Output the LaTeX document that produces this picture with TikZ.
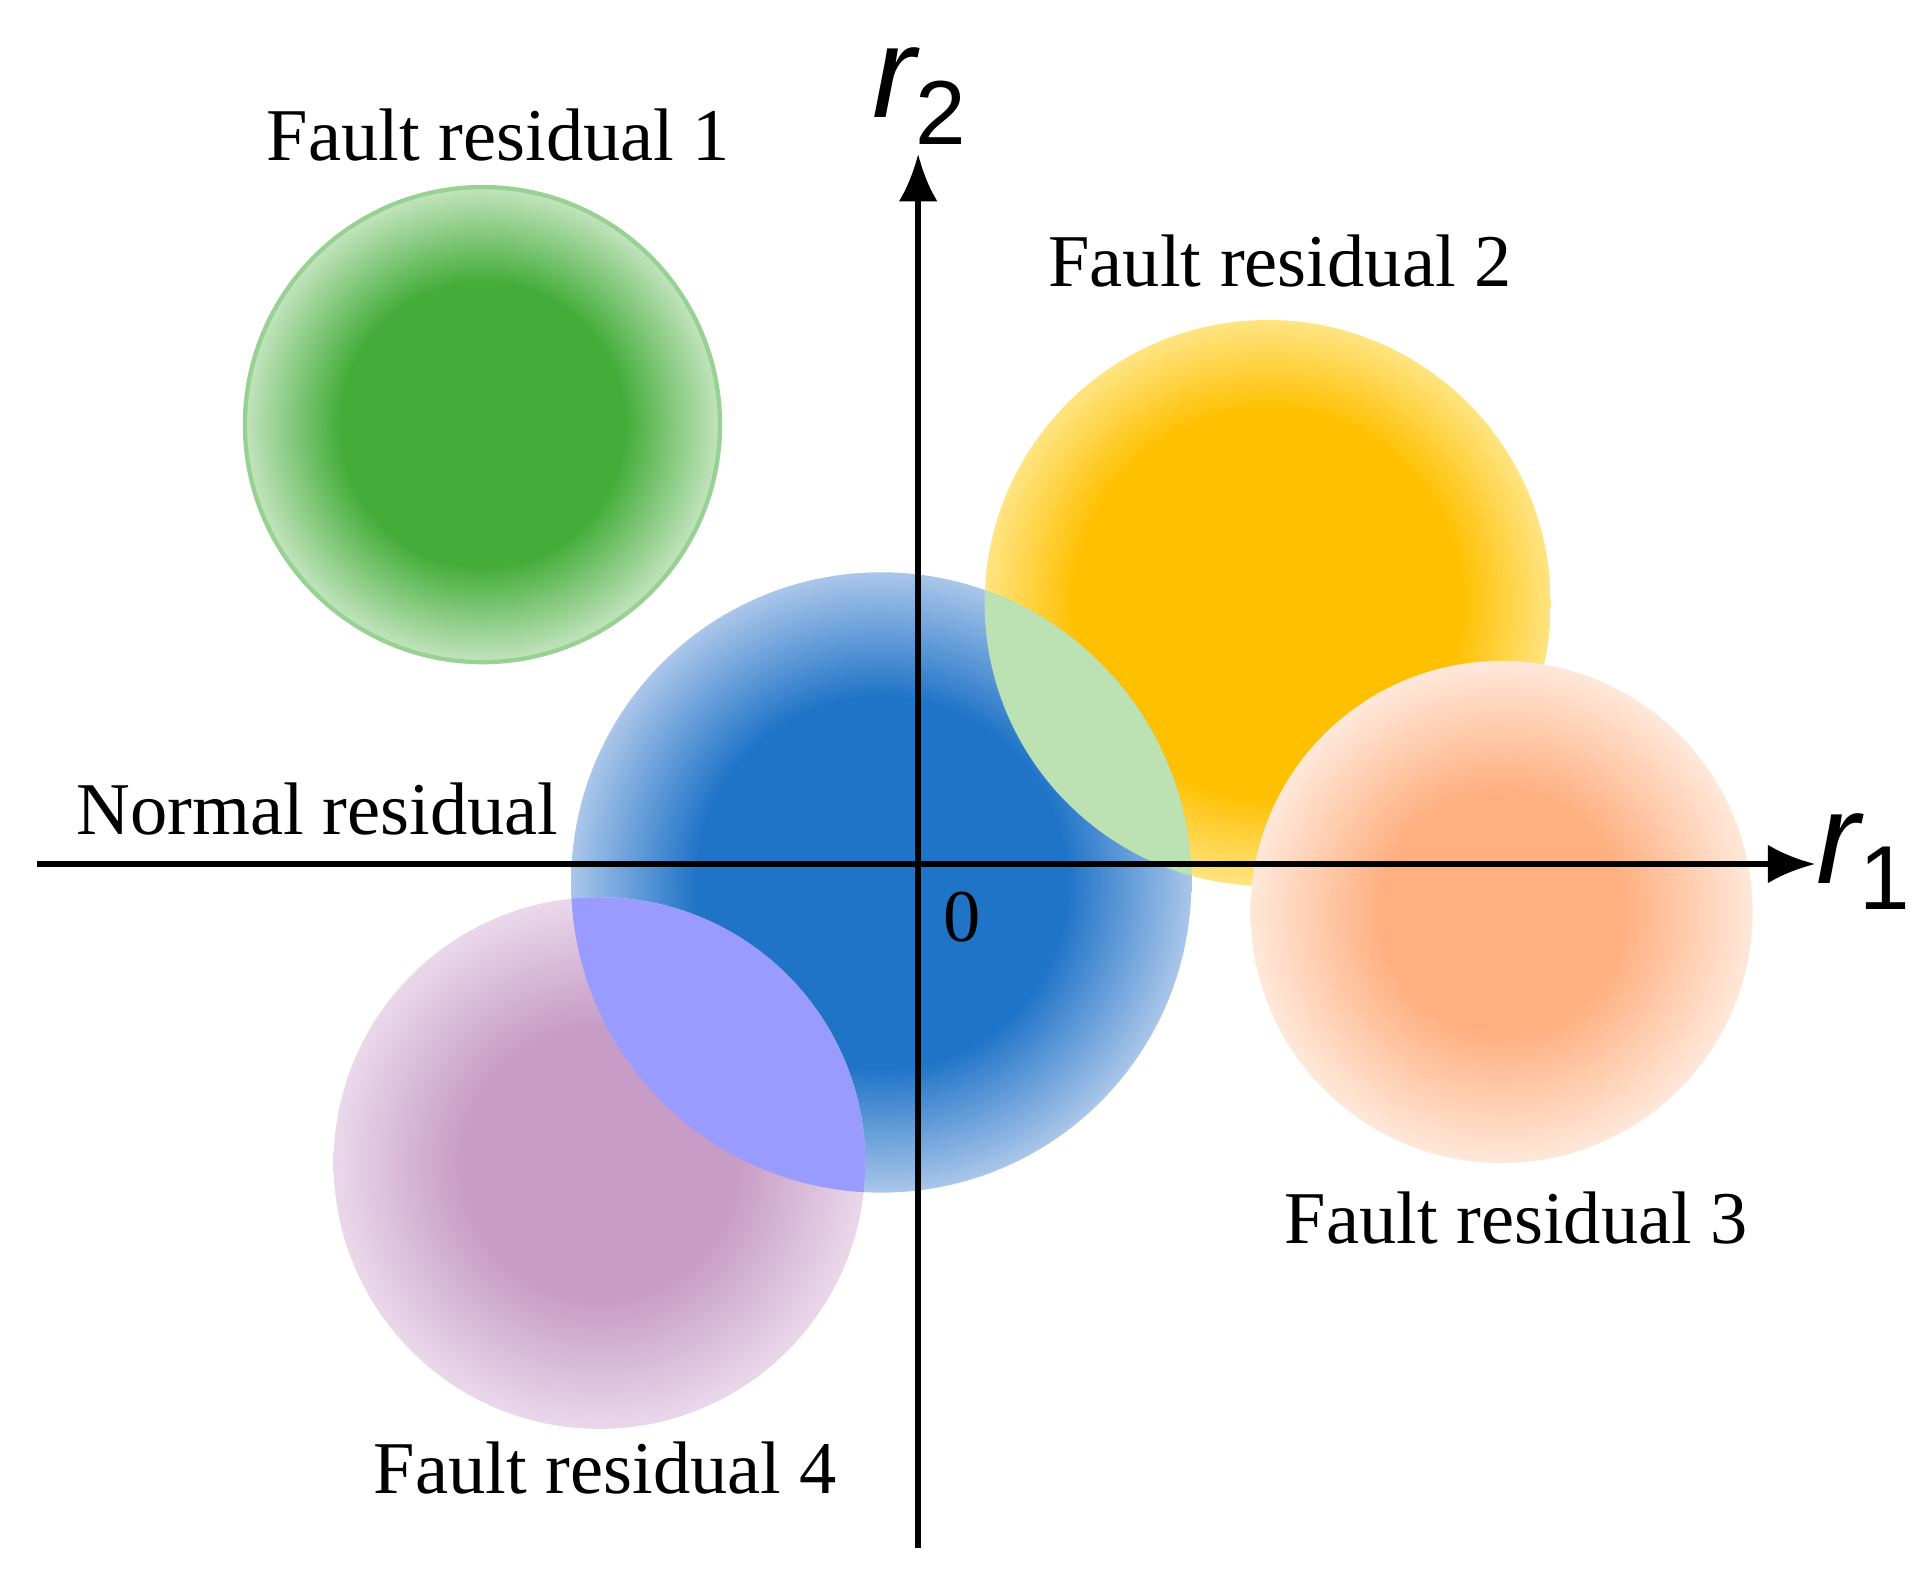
\documentclass[tikz,border=0pt]{standalone}
\usepackage{fontspec}
\setmainfont{Liberation Serif}
\newfontfamily\axfont{Liberation Sans}
\usetikzlibrary{arrows.meta,positioning}
\definecolor{grnI}{RGB}{68,173,58}\definecolor{grnO}{RGB}{195,228,190}
\definecolor{ylwI}{RGB}{255,192,0}\definecolor{ylwO}{RGB}{255,228,130}
\definecolor{bluI}{RGB}{32,116,200}\definecolor{bluO}{RGB}{170,198,234}
\definecolor{orgI}{RGB}{255,175,128}\definecolor{orgO}{RGB}{255,232,218}
\definecolor{prpI}{RGB}{199,157,199}\definecolor{prpO}{RGB}{234,216,234}
\pgfdeclareradialshading{grnblob}{\pgfpoint{0bp}{0bp}}{color(0bp)=(grnI);color(15bp)=(grnI);color(25bp)=(grnO);color(50bp)=(grnO)}
\pgfdeclareradialshading{ylwblob}{\pgfpoint{0bp}{0bp}}{color(0bp)=(ylwI);color(17bp)=(ylwI);color(25bp)=(ylwO);color(50bp)=(ylwO)}
\pgfdeclareradialshading{blublob}{\pgfpoint{0bp}{0bp}}{color(0bp)=(bluI);color(15bp)=(bluI);color(25bp)=(bluO);color(50bp)=(bluO)}
\pgfdeclareradialshading{orgblob}{\pgfpoint{0bp}{0bp}}{color(0bp)=(orgI);color(12bp)=(orgI);color(25bp)=(orgO);color(50bp)=(orgO)}
\pgfdeclareradialshading{prpblob}{\pgfpoint{0bp}{0bp}}{color(0bp)=(prpI);color(13bp)=(prpI);color(25bp)=(prpO);color(50bp)=(prpO)}
\begin{document}
\begin{tikzpicture}[x=0.01cm,y=-0.01cm,
    lbl/.style={font=\fontsize{17.2}{19}\selectfont},
    ax/.style={line width=1.4pt,-{Latex[length=11pt,width=9pt]}},
    axl/.style={font=\axfont\fontsize{30}{32}\selectfont\itshape}]
  \useasboundingbox (0,0) rectangle (1560,1282);
  % centres
  \coordinate (cg) at (392,345);
  \coordinate (cy) at (1030,490);
  \coordinate (cb) at (716,717);
  \coordinate (co) at (1220,741);
  \coordinate (cp) at (487,945);
  % regions
  \shade[shading=grnblob] (cg) circle (193);
  \draw[grnI!55,line width=1pt] (cg) circle (193);
  \shade[shading=ylwblob] (cy) circle (230);
  \shade[shading=blublob] (cb) circle (252);
  \shade[shading=orgblob] (co) circle (204);
  \shade[shading=prpblob] (cp) circle (216);
  \begin{scope}
    \clip (cb) circle (252);
    \fill[fill={rgb,255:red,188;green,225;blue,178}] (cy) circle (230);
    \fill[fill={rgb,255:red,153;green,155;blue,255}] (cp) circle (216);
  \end{scope}
  % axes
  \coordinate (xs) at (30,702);
  \coordinate (xe) at (1475,702);
  \coordinate (ys) at (746,1258);
  \coordinate (ye) at (746,125);
  \draw[ax] (xs) -- (xe);
  \draw[ax] (ys) -- (ye);
  \node[axl] (r2) at (748,78) {r\textsubscript{\upshape 2}};
  \node[axl] (r1) at (1515,700) {r\textsubscript{\upshape 1}};
  \node[lbl] (zero) at (782,745) {0};
  % labels
  \node[lbl] (f1) at (405,110) {Fault residual 1};
  \node[lbl] (f2) at (1040,212) {Fault residual 2};
  \node[lbl] (f3) at (1232,990) {Fault residual 3};
  \node[lbl] (f4) at (492,1193) {Fault residual 4};
  \node[lbl] (nr) at (258,657) {Normal residual};
\end{tikzpicture}
\end{document}
